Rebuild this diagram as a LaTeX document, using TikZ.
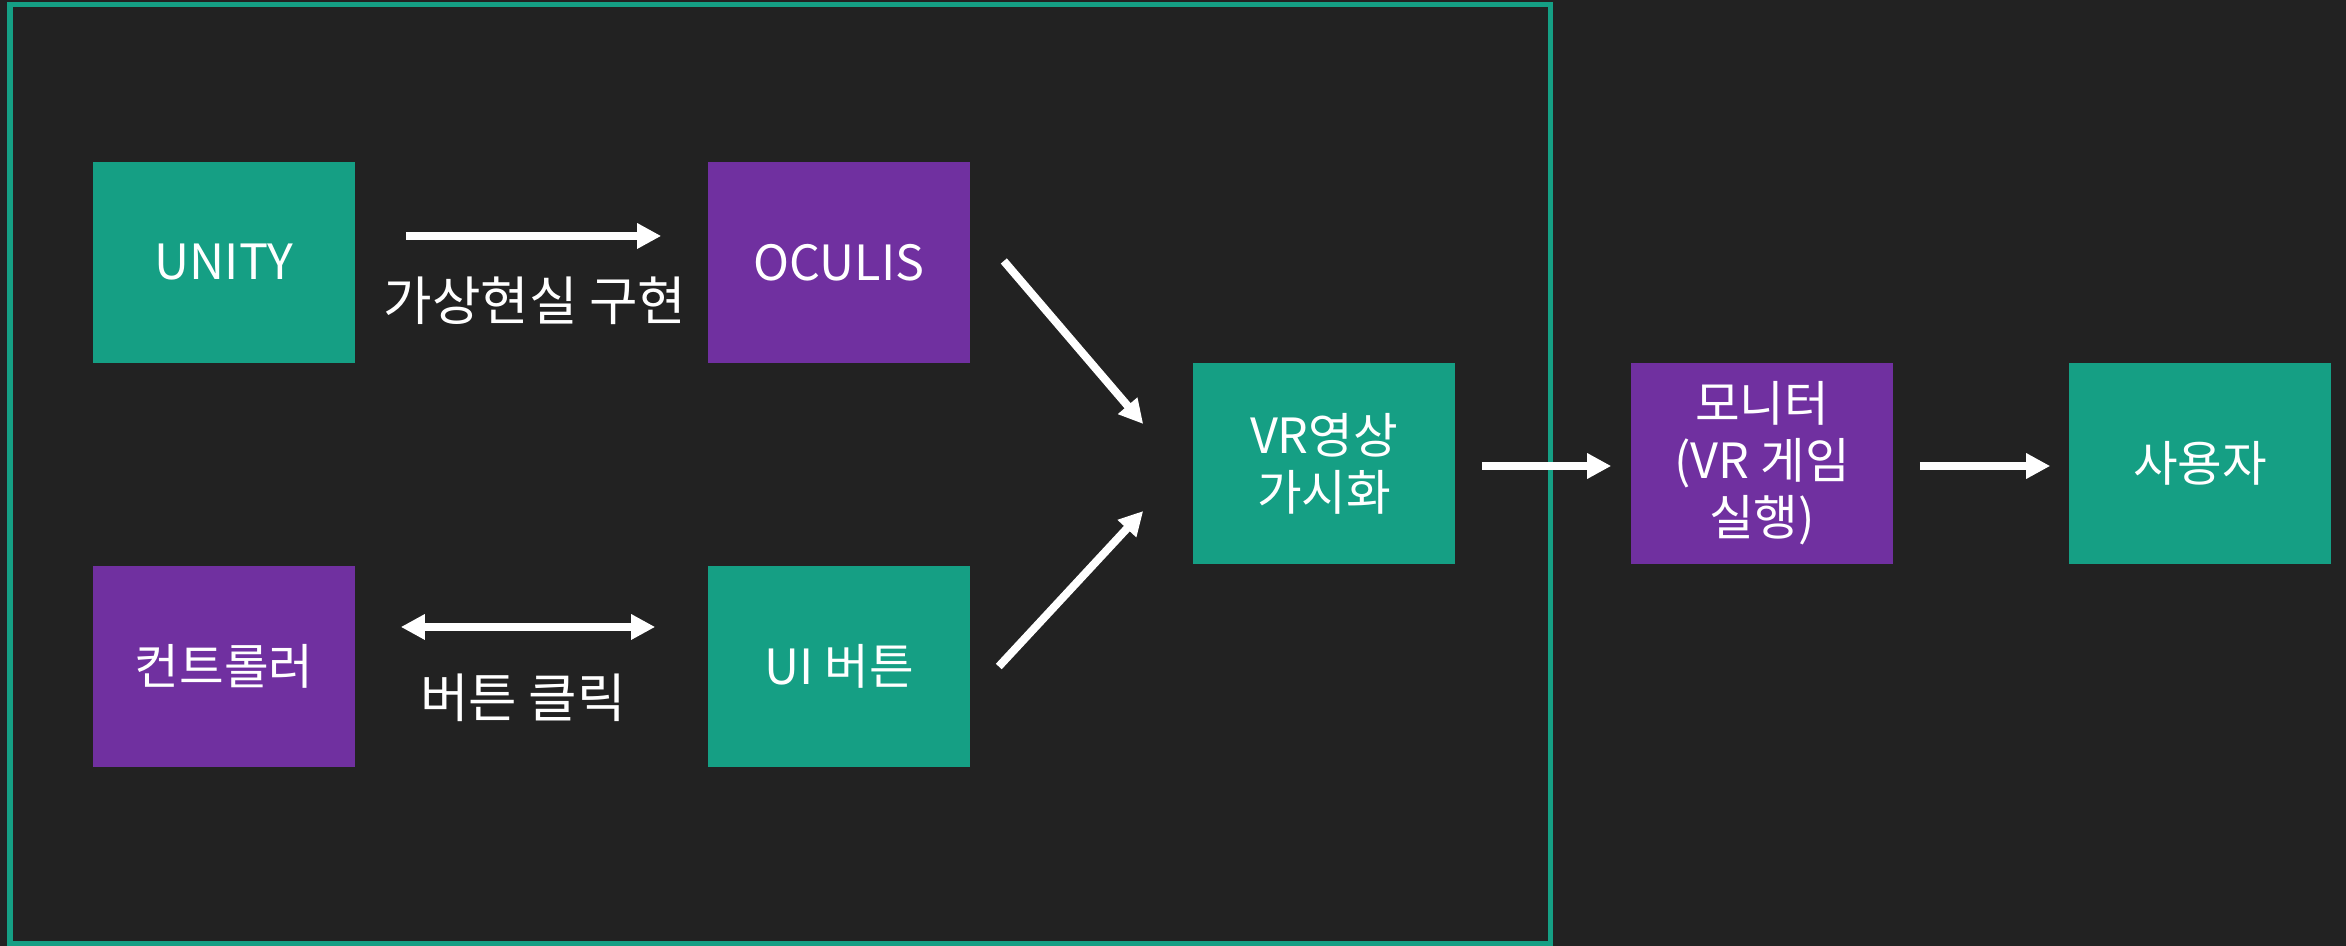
\documentclass[tikz,border=0pt]{standalone}
\usepackage{fontspec}
\newfontfamily\kr{Noto Sans CJK KR}
\usetikzlibrary{arrows.meta}
\definecolor{bgc}{HTML}{222222}
\definecolor{tealc}{HTML}{159F84}
\definecolor{purpc}{HTML}{7030A0}
\tikzset{
  x=0.01cm, y=-0.01cm,
  boxnode/.style={minimum width=2.62cm, minimum height=2.01cm, inner sep=0pt, draw=none, text=white, align=center,
    font=\kr\fontsize{13.8pt}{16.2pt}\selectfont},
  tealbox/.style={boxnode, fill=tealc},
  purpbox/.style={boxnode, fill=purpc},
  lbl/.style={text=white, inner sep=0pt, font=\kr\fontsize{15pt}{18pt}\selectfont},
  arr/.style={draw=white, line width=0.08cm, -{Triangle[length=0.24cm,width=0.24cm]}},
  darr/.style={draw=white, line width=0.08cm, {Triangle[length=0.24cm,width=0.24cm]}-{Triangle[length=0.24cm,width=0.24cm]}},
  frame/.style={draw=tealc, line width=0.05cm}
}
\begin{document}
\begin{tikzpicture}
\fill[bgc] (0,0) rectangle (2346,946);
\useasboundingbox (0,0) rectangle (2346,946);
\draw[frame] (10,4.5) rectangle (1550,943.5);

\node[tealbox] (unity) at (224,262.5) {UNITY};
\node[purpbox] (oculis) at (839,262.5) {OCULIS};
\node[purpbox] (ctrl) at (224,666.5) {컨트롤러};
\node[tealbox] (uibtn) at (839,666.5) {UI 버튼};
\node[tealbox] (vr) at (1324,463.5) {VR영상\\가시화};
\node[purpbox] (mon) at (1762,463.5) {모니터\\(VR 게임\\실행)};
\node[tealbox] (user) at (2200,463.5) {사용자};

\node[lbl] (l1) at (535,301) {가상현실 구현};
\node[lbl] (l2) at (523,698) {버튼 클릭};

\draw[arr] ([xshift=0.5cm,yshift=0.265cm]unity.east) -- ([xshift=-0.46cm,yshift=0.265cm]oculis.west);
\draw[darr] ([xshift=0.45cm,yshift=0.395cm]ctrl.east) -- ([xshift=-0.52cm,yshift=0.395cm]uibtn.west);
\draw[arr] ([xshift=0.33cm,yshift=0.015cm]oculis.east) -- ([xshift=-0.49cm,yshift=0.395cm]vr.west);
\draw[arr] ([xshift=0.28cm]uibtn.east) -- ([xshift=-0.49cm,yshift=-0.475cm]vr.west);
\draw[arr] ([xshift=0.26cm,yshift=-0.025cm]vr.east) -- ([xshift=-0.19cm,yshift=-0.025cm]mon.west);
\draw[arr] ([xshift=0.26cm,yshift=-0.025cm]mon.east) -- ([xshift=-0.18cm,yshift=-0.025cm]user.west);
\end{tikzpicture}
\end{document}
